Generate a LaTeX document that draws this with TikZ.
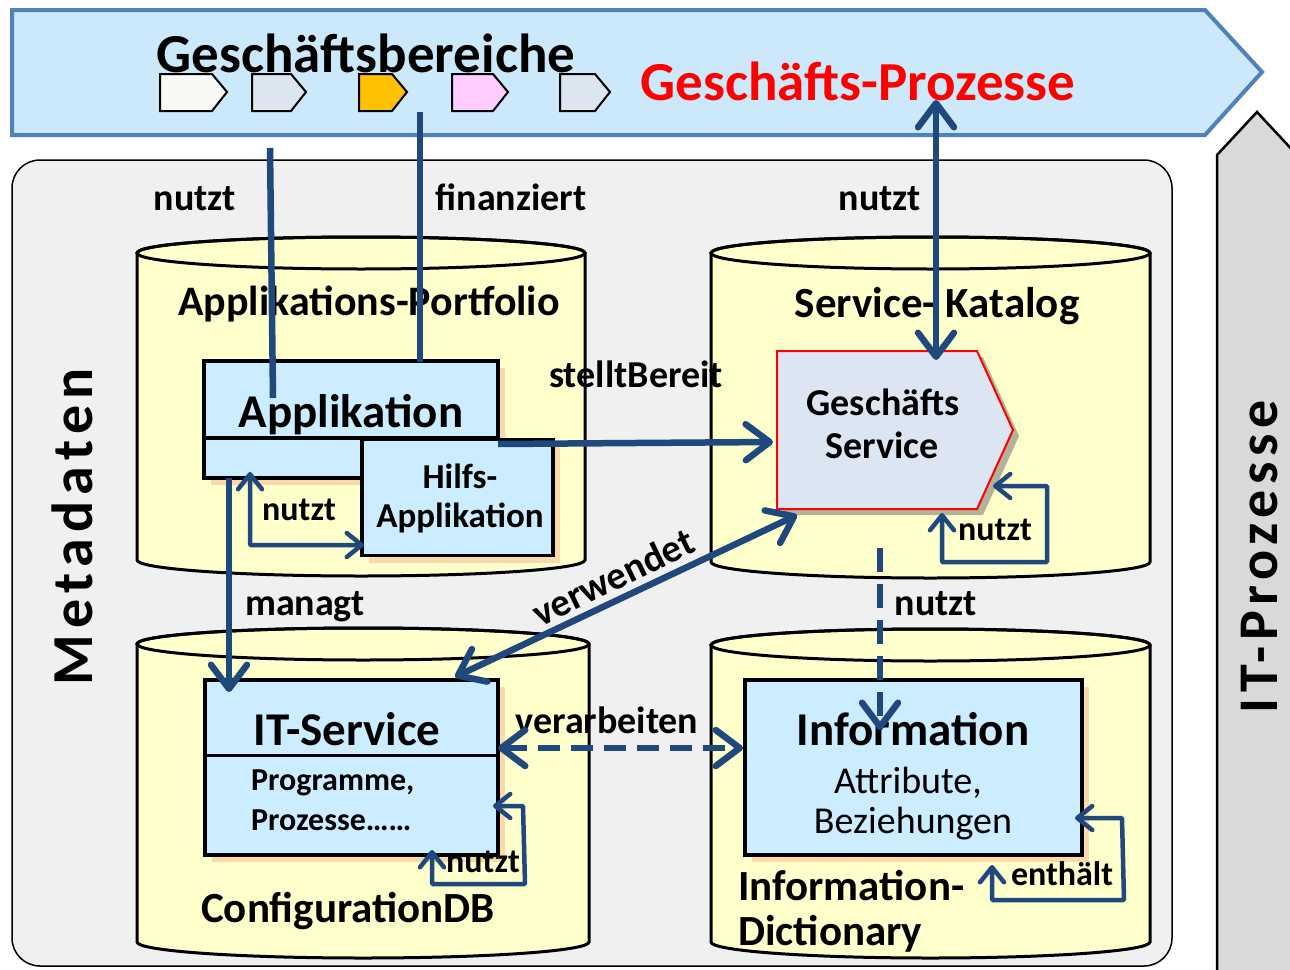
\documentclass[tikz,border=0pt]{standalone}
\usepackage{fontspec}
\setmainfont{Carlito}
\usetikzlibrary{arrows.meta, shadows}
\definecolor{bannerfill}{HTML}{CCE9FB}
\definecolor{bannerline}{HTML}{4F81BD}
\definecolor{relblue}{HTML}{1F497D}
\definecolor{metafill}{HTML}{F0F0F0}
\definecolor{cylfill}{HTML}{FFFFCC}
\definecolor{boxfill}{HTML}{CCECFF}
\definecolor{gsfill}{HTML}{DCE6F2}
\definecolor{itfill}{HTML}{D9D9D9}
\definecolor{glow}{HTML}{F9CB9C}
\definecolor{chevA}{HTML}{F8F8F4}
\definecolor{chevB}{HTML}{DCE6F0}
\definecolor{chevC}{HTML}{FFC000}
\definecolor{chevD}{HTML}{FFCCFF}
% left, right, top, bottom
\newcommand{\cylinder}[4]{%
  \filldraw[cyl] (#1,#3) -- (#1,#4)
    arc[start angle=180, end angle=360, x radius={(#2-#1)/2*1pt}, y radius=16pt]
    -- (#2,#3)
    arc[start angle=0, end angle=180, x radius={(#2-#1)/2*1pt}, y radius=16pt] -- cycle;
  \draw[cyl, fill=none] ({(#1+#2)/2},#3) ellipse[x radius={(#2-#1)/2*1pt}, y radius=16pt];}
\tikzset{
  txt/.style={font=\bfseries\fontsize{#1}{#1}\selectfont, inner sep=0pt},
  plain/.style={font=\fontsize{#1}{#1}\selectfont, inner sep=0pt},
  cyl/.style={draw, line width=3pt, fill=cylfill},
  box/.style={draw, line width=3.5pt, fill=boxfill, inner sep=0pt,
    drop shadow={shadow xshift=7pt, shadow yshift=-7pt, fill=glow, opacity=.7}},
  rel/.style={draw=relblue, line width=6.5pt, -{Straight Barb[round, length=24pt, width=36pt]}},
  relboth/.style={rel, {Straight Barb[round, length=24pt, width=36pt]}-{Straight Barb[round, length=24pt, width=36pt]}},
  selfref/.style={draw=relblue, line width=4.5pt, rounded corners=1pt,
    {Straight Barb[round, length=15pt, width=24pt]}-{Straight Barb[round, length=15pt, width=24pt]}},
}
\begin{document}
\begin{tikzpicture}[x=1pt, y=-1pt]
	\useasboundingbox[fill=white] (0,0) rectangle (1290,969);
	% banner
	\filldraw[fill=bannerfill, draw=bannerline, line width=4pt]
		(12,10) -- (1205,10) -- (1262,72) -- (1205,135) -- (12,135) -- cycle;
	\foreach \xa/\xb/\col in {160/227/chevA, 252/306/chevB, 359/407/chevC, 452/508/chevD, 560/610/chevB}
		\filldraw[fill=\col, line width=2pt] (\xa,74) -- ({\xb-15},74) -- (\xb,92) -- ({\xb-15},111) -- (\xa,111) -- cycle;
	\node[txt=55, anchor=base] (gb) at (366,72) {Geschäftsbereiche};
	\node[txt=55, anchor=base, text=red] (gp) at (858,100) {Geschäfts-Prozesse};
	% it-prozesse
	\filldraw[fill=itfill, line width=2.5pt] (1217,980) -- (1217,155) -- (1257,112) -- (1297,155) -- (1297,980);
	\node[txt=56, rotate=90, font=\bfseries\fontsize{56}{56}\selectfont\addfontfeature{LetterSpace=10}] (itp) at (1260,557) {IT-Prozesse};
	% metadaten
	\filldraw[fill=metafill, line width=1.5pt, rounded corners=28pt] (12,160) rectangle (1172,966);
	\node[txt=58, rotate=90, font=\bfseries\fontsize{58}{58}\selectfont\addfontfeature{LetterSpace=11}] (meta) at (72,527) {Metadaten};
	\cylinder{137}{585}{253}{560}
	\cylinder{711}{1150}{253}{562}
	\cylinder{137}{589}{644}{942}
	\cylinder{711}{1150}{645}{942}
	% boxes
	\node[box, minimum width=294pt, minimum height=117pt] (app) at (351,419.5) {};
	\draw[line width=3.5pt] (204,438) -- (498,438);
	\node[box, minimum width=191pt, minimum height=116pt] (hilfs) at (457.5,497.5) {};
	\filldraw[fill=gsfill, draw=red, line width=2pt,
		drop shadow={shadow xshift=6pt, shadow yshift=-6pt, fill=black!60, opacity=.5}]
		(777,351) -- (977,351) -- (1013,430) -- (977,509) -- (777,509) -- cycle;
	\node[box, minimum width=293pt, minimum height=175pt] (its) at (351.5,767.5) {};
	\draw[line width=3pt] (205,755) -- (498,755);
	\node[box, minimum width=337pt, minimum height=175pt] (info) at (913.5,767.5) {};
	% texts
	\node[txt=42, anchor=base] (portfolio) at (369,315) {Applikations-Portfolio};
	\node[txt=43, anchor=base] (katalog) at (937,317) {Service- Katalog};
	\node[txt=47, anchor=base] (appT) at (351,427) {Applikation};
	\node[txt=35, anchor=base] (hilfsA) at (460,488) {Hilfs-};
	\node[txt=35, anchor=base] (hilfsB) at (460,527) {Applikation};
	\node[txt=38, anchor=base] (gsA) at (883,415) {Geschäfts};
	\node[txt=38, anchor=base] (gsB) at (882,458) {Service};
	\node[txt=47, anchor=base] (itsT) at (347,745) {IT-Service};
	\node[txt=32, anchor=base west] (itsA) at (251,790) {Programme,};
	\node[txt=32, anchor=base west] (itsB) at (251,830) {Prozesse\dots\dots};
	\node[txt=43, anchor=base] (cdb) at (348,922) {ConfigurationDB};
	\node[txt=47, anchor=base] (infoT) at (913,745) {Information};
	\node[plain=38, anchor=base] (infoA) at (908,793) {Attribute,};
	\node[plain=38, anchor=base] (infoB) at (913,833) {Beziehungen};
	\node[txt=43, anchor=base west] (dictA) at (738,900) {Information-};
	\node[txt=43, anchor=base west] (dictB) at (738,945) {Dictionary};
	% relation labels
	\node[txt=38, anchor=base] (l1) at (195,210) {nutzt};
	\node[txt=38, anchor=base] (l2) at (511,210) {finanziert};
	\node[txt=38, anchor=base] (l3) at (880,210) {nutzt};
	\node[txt=38, anchor=base] (l4) at (636,387) {stelltBereit};
	\node[txt=34, anchor=base] (l5) at (299,520) {nutzt};
	\node[txt=38, anchor=base] (l6) at (305,615) {managt};
	\node[txt=39, rotate=26] (l7) at (613,577) {verwendet};
	\node[txt=34, anchor=base] (l8) at (995,540) {nutzt};
	\node[txt=38, anchor=base] (l9) at (936,615) {nutzt};
	\node[txt=38, anchor=base] (l10) at (607,733) {verarbeiten};
	\node[txt=34, anchor=base] (l11) at (483,872) {nutzt};
	\node[txt=34, anchor=base] (l12) at (1062,885) {enthält};
	% end points
	\coordinate (bNutzt) at (270,148);   \coordinate (appNutzt) at (273,398);
	\coordinate (bFin) at (420,112);     \coordinate (appFin) at (420,362);
	\coordinate (gpIn) at (936,100);     \coordinate (gsTop) at (936,360);
	\coordinate (appOut) at (498,444);   \coordinate (gsIn) at (773,442);
	\coordinate (gsLow) at (797,515);    \coordinate (itsTop) at (455,677);
	\coordinate (appLow) at (229,478);   \coordinate (itsIn) at (229,692);
	\coordinate (appSelf) at (250,472);  \coordinate (hilfsIn) at (364,545);
	\coordinate (gsSelfA) at (942,513);  \coordinate (gsSelfB) at (993,486);
	\coordinate (gsDown) at (880,548);   \coordinate (infoTop) at (880,730);
	\coordinate (itsOut) at (498,748);   \coordinate (infoIn) at (743,748);
	\coordinate (itsSelfA) at (432,850); \coordinate (itsSelfB) at (493,806);
	\coordinate (infoSelfA) at (992,865); \coordinate (infoSelfB) at (1075,818);
	% relations
	\draw[draw=relblue, line width=6.5pt] (bNutzt) -- (appNutzt);
	\draw[draw=relblue, line width=6.5pt] (bFin) -- (appFin);
	\draw[relboth] (gpIn) -- (gsTop);
	\draw[rel] (appOut) -- (gsIn);
	\draw[relboth] (gsLow) -- (itsTop);
	\draw[rel] (appLow) -- (itsIn);
	\draw[rel, dash pattern=on 24pt off 12pt] (gsDown) -- (infoTop);
	\draw[relboth, dash pattern=on 22pt off 11pt] (itsOut) -- (infoIn);
	\draw[selfref] (appSelf) -- (250,545) -- (hilfsIn);
	\draw[selfref] (gsSelfA) -- (942,562) -- (1047,562) -- (1047,486) -- (gsSelfB);
	\draw[selfref] (itsSelfA) -- (432,884) -- (525,884) -- (523,806) -- (itsSelfB);
	\draw[selfref] (infoSelfA) -- (992,900) -- (1124,900) -- (1122,818) -- (infoSelfB);
\end{tikzpicture}
\end{document}
